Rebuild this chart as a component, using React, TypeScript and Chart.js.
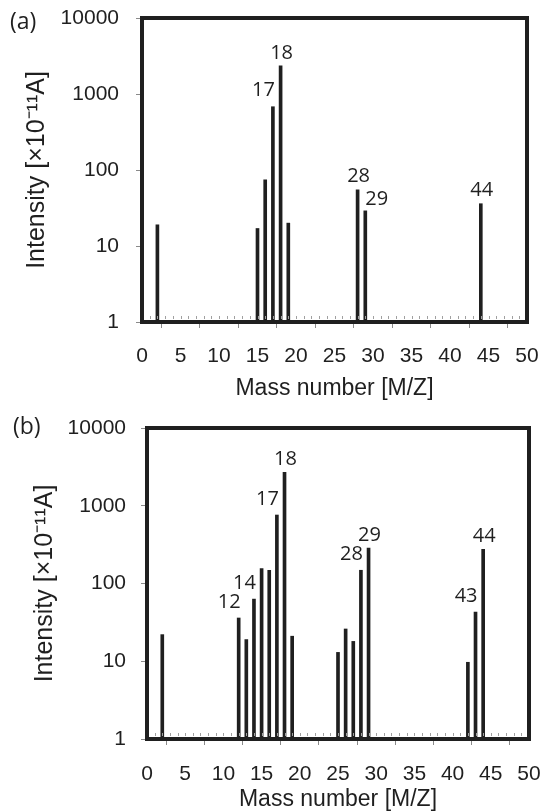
import React, { useEffect, useRef } from 'react';
import { Chart, registerables } from 'chart.js';
Chart.register(...registerables);

// ---- data ----
const massA = [2, 15, 16, 17, 18, 19, 28, 29, 44];
const intensityA = [19, 17, 74, 680, 2350, 20, 55, 29, 36];
const labeledA = [17, 18, 28, 29, 44];
const placeA = ['left', 'top', 'top', 'right', 'top'];

const massB = [2, 12, 13, 14, 15, 16, 17, 18, 19, 25, 26, 27, 28, 29, 42, 43, 44];
const intensityB = [22, 36, 19, 63, 155, 148, 760, 2700, 21, 13, 26, 18, 148, 285, 9.7, 43, 275];
const labeledB = [12, 14, 17, 18, 28, 29, 43, 44];
const placeB = ['left', 'left', 'left', 'top', 'left', 'top', 'left', 'top'];

const yTicks = [1, 10, 100, 1000, 10000];
const xTicks = [0, 5, 10, 15, 20, 25, 30, 35, 40, 45, 50];
const xTitle = 'Mass number [M/Z]';
const yTitle = 'Intensity [×10⁻¹¹A]';

const INK = '#1f1f1f';
const SANS = '"Liberation Sans", Arial, sans-serif';
const TICK_FONT = { family: SANS, size: 21 };

type Cfg = {
  panel: string;
  masses: number[];
  values: number[];
  labeled: number[];
  place: string[];
  w: number;
  h: number;
  area: { left: number; right: number; top: number; bottom: number };
  yTitleOffset: number;
  yTickPad: number;
  xTitlePad: number;
  xTickPad: number;
  panelPos: [number, number];
};

function makeDecor(c: Cfg) {
  return {
    id: 'decor',
    afterDatasetsDraw(chart: any) {
      const { ctx, chartArea: a } = chart;
      const x = chart.scales.x;
      const y = chart.scales.y;
      ctx.save();
      // minor inside ticks
      ctx.strokeStyle = '#a0a0a0';
      ctx.lineWidth = 1;
      for (let v = xTicks[0]; v <= xTicks[xTicks.length - 1]; v++) {
        const px = Math.round(x.getPixelForValue(v)) + 0.5;
        ctx.beginPath();
        ctx.moveTo(px, a.bottom - 3);
        ctx.lineTo(px, a.bottom - 6);
        ctx.stroke();
      }
      // frame
      ctx.strokeStyle = INK;
      ctx.lineWidth = 4;
      ctx.strokeRect(a.left, a.top, a.right - a.left, a.bottom - a.top);
      // peak labels
      ctx.fillStyle = INK;
      ctx.font = '20px "Open Sans", sans-serif';
      ctx.textBaseline = 'middle';
      c.labeled.forEach((m, i) => {
        const val = c.values[c.masses.indexOf(m)];
        const bx = x.getPixelForValue(m);
        const by = y.getPixelForValue(val);
        const p = c.place[i];
        if (p === 'left') {
          ctx.textAlign = 'right';
          ctx.fillText(String(m), bx + 2, by - 16);
        } else if (p === 'right') {
          ctx.textAlign = 'left';
          ctx.fillText(String(m), bx, by - 12);
        } else {
          ctx.textAlign = 'center';
          ctx.fillText(String(m), bx + 1, by - 13);
        }
      });
      // panel label
      ctx.font = '23px "Open Sans", sans-serif';
      ctx.textAlign = 'left';
      ctx.fillText(c.panel, c.panelPos[0], c.panelPos[1]);
      ctx.restore();
    },
  };
}

function SpectrumChart({ c, top }: { c: Cfg; top: number }) {
  const ref = useRef<HTMLCanvasElement>(null);
  useEffect(() => {
    if (!ref.current) return;
    const chart = new Chart(ref.current, {
      type: 'bar',
      data: {
        datasets: [
          {
            data: c.masses.map((m, i) => ({ x: m, y: c.values[i] })),
            backgroundColor: INK,
            borderWidth: 0,
            barThickness: 3,
          },
        ],
      },
      options: {
        responsive: false,
        animation: false,
        devicePixelRatio: 1,
        layout: { padding: { left: 0, top: c.area.top, right: c.w - c.area.right, bottom: 0 } },
        plugins: { legend: { display: false }, tooltip: { enabled: false } },
        scales: {
          x: {
            type: 'linear',
            min: xTicks[0],
            max: xTicks[xTicks.length - 1],
            offset: false,
            afterBuildTicks: (s: any) => {
              s.ticks = xTicks.map((v) => ({ value: v }));
            },
            afterFit: (s: any) => {
              s.height = c.h - c.area.bottom;
              s.paddingLeft = 0;
              s.paddingRight = 0;
            },
            ticks: { color: INK, font: TICK_FONT, padding: c.xTickPad, maxRotation: 0, autoSkip: false },
            grid: { display: true, drawOnChartArea: false, drawTicks: true, tickLength: 6, color: '#8a8a8a' },
            border: { display: false },
            title: {
              display: true,
              text: xTitle,
              color: INK,
              font: { family: SANS, size: 23 },
              padding: { top: 0, bottom: c.xTitlePad },
            },
          },
          y: {
            type: 'logarithmic',
            min: yTicks[0],
            max: yTicks[yTicks.length - 1],
            afterBuildTicks: (s: any) => {
              s.ticks = yTicks.map((v) => ({ value: v }));
            },
            afterFit: (s: any) => {
              s.width = c.area.left;
              s.paddingTop = 0;
              s.paddingBottom = 0;
            },
            ticks: { color: INK, font: TICK_FONT, padding: c.yTickPad, callback: (v: any) => String(v) },
            grid: { display: true, drawOnChartArea: false, drawTicks: true, tickLength: 6, color: '#8a8a8a' },
            border: { display: false },
            title: {
              display: true,
              text: yTitle,
              color: INK,
              font: { family: SANS, size: 25 },
              padding: { top: c.yTitleOffset, bottom: 0 },
            },
          },
        },
      },
      plugins: [makeDecor(c)],
    } as any);
    return () => chart.destroy();
  }, []);
  return (
    <canvas
      ref={ref}
      width={c.w}
      height={c.h}
      style={{ position: 'absolute', left: 0, top, width: c.w, height: c.h }}
    />
  );
}

const cfgA: Cfg = {
  panel: '(a)',
  masses: massA,
  values: intensityA,
  labeled: labeledA,
  place: placeA,
  w: 543,
  h: 405,
  area: { left: 142, right: 527, top: 18, bottom: 322 },
  yTitleOffset: 22,
  yTickPad: 17,
  xTitlePad: 3,
  xTickPad: 16,
  panelPos: [10, 22],
};

const cfgB: Cfg = {
  panel: '(b)',
  masses: massB,
  values: intensityB,
  labeled: labeledB,
  place: placeB,
  w: 543,
  h: 406,
  area: { left: 147, right: 529, top: 23, bottom: 334 },
  yTitleOffset: 30,
  yTickPad: 15,
  xTitlePad: -2,
  xTickPad: 17,
  panelPos: [13, 22],
};

export default function App() {
  return (
    <div style={{ position: 'absolute', left: 0, top: 0, width: 543, height: 811, background: '#fff' }}>
      <SpectrumChart c={cfgA} top={0} />
      <SpectrumChart c={cfgB} top={405} />
    </div>
  );
}
